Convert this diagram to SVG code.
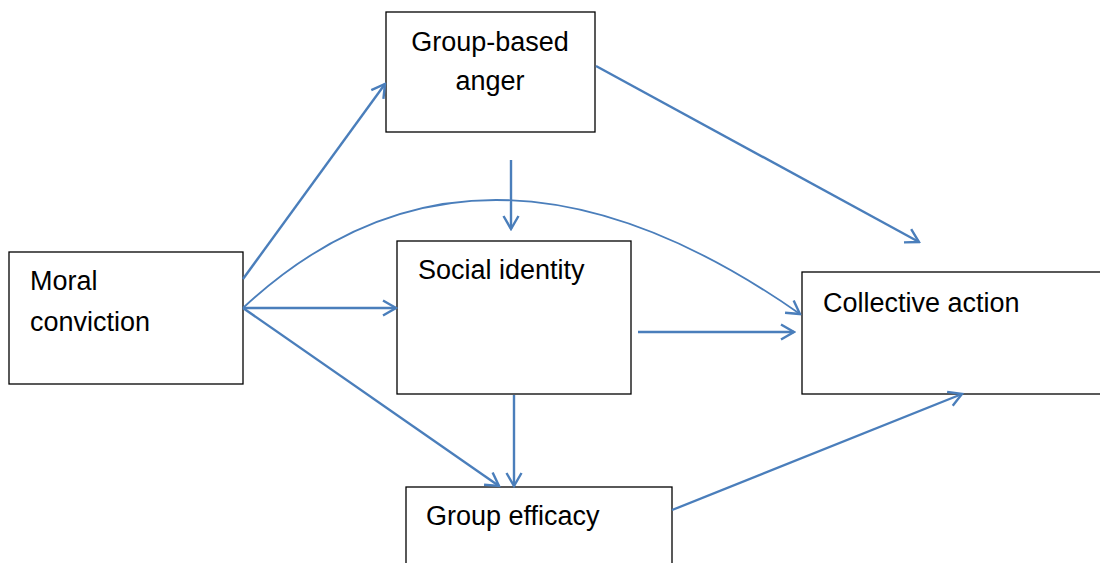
<svg xmlns="http://www.w3.org/2000/svg" width="1100" height="563" viewBox="0 0 1100 563">
<style>
.box{fill:#fff;stroke:#000;stroke-width:1.3}
.lbl{font-family:"Liberation Sans",Arial,sans-serif;font-size:27px;fill:#000}
.c{fill:none;stroke:#4a7ebb;stroke-width:2.4}
.cv{fill:none;stroke:#4a7ebb;stroke-width:1.8}
</style>
<defs>
<marker id="a" viewBox="0 0 18 18" refX="16" refY="9" markerWidth="18" markerHeight="18" markerUnits="userSpaceOnUse" orient="auto">
<path d="M3,1.5 L16,9 L3,16.5" fill="none" stroke="#4a7ebb" stroke-width="2.4"/>
</marker>
</defs>
<rect width="1100" height="563" fill="#fff"/>
<g id="moral"><rect class="box" x="9" y="252" width="234" height="132"/><text class="lbl" x="30" y="290">Moral</text><text class="lbl" x="30" y="331">conviction</text></g>
<g id="anger"><rect class="box" x="386" y="12" width="209" height="120"/><text class="lbl" x="490" y="51" text-anchor="middle">Group-based</text><text class="lbl" x="490" y="90" text-anchor="middle">anger</text></g>
<g id="identity"><rect class="box" x="397" y="241" width="234" height="153"/><text class="lbl" x="418" y="279">Social identity</text></g>
<g id="collective"><rect class="box" x="802" y="272" width="300" height="122"/><text class="lbl" x="823" y="312">Collective action</text></g>
<g id="efficacy"><rect class="box" x="406" y="487" width="266" height="90"/><text class="lbl" x="426" y="525">Group efficacy</text></g>
<g id="connectors">
<line class="c" x1="243" y1="279" x2="385" y2="84" marker-end="url(#a)"/>
<path class="cv" d="M243,308 Q478,89 800,314" marker-end="url(#a)"/>
<line class="c" x1="243" y1="308" x2="396" y2="308" marker-end="url(#a)"/>
<line class="c" x1="243" y1="308" x2="499" y2="486" marker-end="url(#a)"/>
<line class="c" x1="511" y1="160" x2="511" y2="229" marker-end="url(#a)"/>
<line class="c" x1="514" y1="395" x2="514" y2="486" marker-end="url(#a)"/>
<line class="c" x1="638" y1="332" x2="794" y2="332" marker-end="url(#a)"/>
<line class="c" x1="596" y1="66" x2="919" y2="242" marker-end="url(#a)"/>
<line class="c" x1="672" y1="510" x2="962" y2="394" marker-end="url(#a)"/>
</g>
</svg>
